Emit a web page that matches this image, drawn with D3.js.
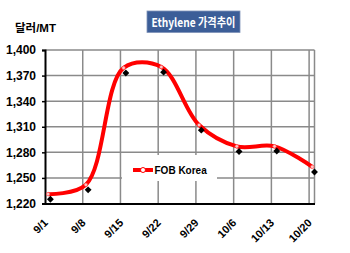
<!DOCTYPE html>
<html><head><meta charset="utf-8">
<script src="https://cdn.jsdelivr.net/npm/d3@7"></script>
<style>body{margin:0;background:#fff}svg{display:block}</style>
</head><body>
<svg id="c" width="350" height="253"></svg>
<script>
// ---- data ----
const weekLabels = ["9/1","9/8","9/15","9/22","9/29","10/6","10/13","10/20"];
const weekDates = ["2021-09-01","2021-09-08","2021-09-15","2021-09-22","2021-09-29","2021-10-06","2021-10-13","2021-10-20"];
const redDates = ["2021-09-01T14:00","2021-09-08T14:00","2021-09-15T14:00","2021-09-22T14:00","2021-09-29T14:00","2021-10-06T14:00","2021-10-13T14:00","2021-10-20T14:00"];
const fobKorea = [1231, 1242, 1379, 1380, 1312, 1287, 1287, 1263];
const diamondDates = ["2021-09-02","2021-09-09","2021-09-16","2021-09-23","2021-09-30","2021-10-07","2021-10-14","2021-10-21"];
const diamondVals = [1225, 1236, 1373, 1374, 1306, 1281, 1281.5, 1257];
const yTicks = [1220, 1250, 1280, 1310, 1340, 1370, 1400];
const axisStart = "2021-09-01", axisEnd = "2021-10-21";
const titleText = "Ethylene 가격추이";
const unitText = "달러/MT";
const legendText = "FOB Korea";

const parse = d => new Date(d);
const svg = d3.select("#c");
const L = 45, R = 314.5, T = 50, B = 203.5;
const x = d3.scaleTime().domain([parse(axisStart), parse(axisEnd)]).range([L, R]);
const y = d3.scaleLinear().domain([1220, 1400]).range([B, T]);

// gridlines
const grid = svg.append("g").attr("stroke", "#8a8a8a").attr("stroke-width", 1.5);
grid.selectAll("line.h").data(yTicks.slice(1)).join("line")
  .attr("x1", L).attr("x2", R).attr("y1", d => y(d)).attr("y2", d => y(d));
grid.selectAll("line.v").data(weekDates.slice(1)).join("line")
  .attr("x1", d => x(parse(d))).attr("x2", d => x(parse(d))).attr("y1", T).attr("y2", B);
grid.append("line").attr("x1", R).attr("x2", R).attr("y1", T).attr("y2", B);

// legend background box
svg.append("rect").attr("x", 122).attr("y", 155).attr("width", 95).attr("height", 26).attr("fill", "#fff");

// axes
const ya = d3.axisLeft(y).tickValues(yTicks).tickSize(3).tickFormat(d3.format(","));
const yg = svg.append("g").attr("transform", `translate(${L},0)`).call(ya);
yg.select(".domain").attr("stroke", "#000").attr("stroke-width", 2);
yg.selectAll(".tick line").attr("stroke", "#000").attr("stroke-width", 1.5);
yg.selectAll(".tick text").attr("font-family", "Liberation Sans, Arial, sans-serif")
  .attr("font-weight", "bold").attr("font-size", 12).attr("fill", "#000").attr("x", -9);

const xa = d3.axisBottom(x).tickValues(weekDates.map(parse)).tickSize(0)
  .tickFormat((d, i) => weekLabels[i]);
const xg = svg.append("g").attr("transform", `translate(0,${B})`).call(xa);
xg.select(".domain").attr("stroke", "#000").attr("stroke-width", 2);
xg.selectAll(".tick text").attr("font-family", "Liberation Sans, Arial, sans-serif")
  .attr("font-weight", "bold").attr("font-size", 11).attr("fill", "#000")
  .attr("text-anchor", "end").attr("dy", 0).attr("y", 0)
  .attr("transform", "translate(3,20) rotate(-45)");

// red smoothed line
const pts = redDates.map((d, i) => [x(parse(d)), y(fobKorea[i])]);
svg.append("path").attr("d", d3.line().curve(d3.curveCatmullRom.alpha(0.5))(pts))
  .attr("fill", "none").attr("stroke", "#ff0000").attr("stroke-width", 4).attr("stroke-linejoin", "round");
svg.selectAll("circle.m").data(pts).join("circle")
  .attr("cx", d => d[0]).attr("cy", d => d[1]).attr("r", 1.8)
  .attr("fill", "#ffc8c8").attr("stroke", "#ff3030").attr("stroke-width", 0.6);

// black diamonds
const sym = d3.symbol().type(d3.symbolDiamond2).size(30);
svg.selectAll("path.d").data(diamondDates).join("path")
  .attr("d", sym).attr("fill", "#000")
  .attr("transform", (d, i) => `translate(${x(parse(d))},${y(diamondVals[i])})`);

// legend
svg.append("line").attr("x1", 133).attr("x2", 153).attr("y1", 170).attr("y2", 170)
  .attr("stroke", "#ff0000").attr("stroke-width", 4);
svg.append("circle").attr("cx", 143).attr("cy", 170).attr("r", 2.5)
  .attr("fill", "#fff").attr("stroke", "#ff0000").attr("stroke-width", 1);
svg.append("text").attr("x", 154.5).attr("y", 174).text(legendText)
  .attr("font-family", "Liberation Sans, Arial, sans-serif").attr("font-weight", "bold")
  .attr("font-size", 10).attr("fill", "#000");

// title
svg.append("rect").attr("x", 147).attr("y", 11).attr("width", 93).attr("height", 21.5)
  .attr("fill", "#3c5e98").attr("stroke", "#7f93b8").attr("stroke-width", 0.8);
svg.append("text").attr("x", 151.5).attr("y", 26.5).text(titleText)
  .attr("textLength", 84).attr("lengthAdjust", "spacingAndGlyphs")
  .attr("font-family", "Noto Sans CJK KR, sans-serif").attr("font-weight", "bold")
  .attr("font-size", 12).attr("fill", "#fff");

// unit label
svg.append("text").attr("x", 15).attr("y", 32).text(unitText)
  .attr("font-family", "Liberation Sans, Noto Sans CJK KR, sans-serif").attr("font-weight", "bold")
  .attr("font-size", 11.5).attr("fill", "#000");
</script>
</body></html>
